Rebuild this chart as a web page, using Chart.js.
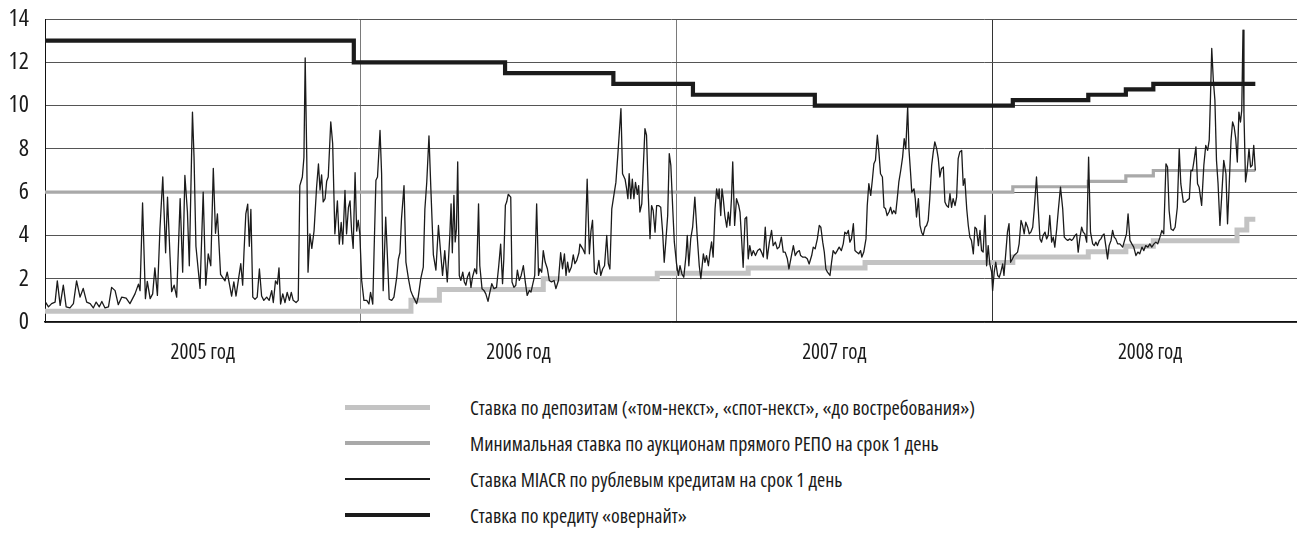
<!DOCTYPE html>
<html><head><meta charset="utf-8">
<script src="https://cdn.jsdelivr.net/npm/chart.js@4.4.1/dist/chart.umd.min.js"></script>
<style>
html,body{margin:0;padding:0;background:#fff;width:1297px;height:533px;overflow:hidden;}
#wrap{position:relative;width:1297px;height:533px;}
#c{position:absolute;left:0;top:0;}
.lg-line{position:absolute;left:345px;width:85px;}
.lg-text{position:absolute;left:470px;white-space:nowrap;color:#1a1a1a;transform-origin:0 50%;line-height:24px;}
</style></head><body>
<div id="wrap"><canvas id="c" width="1297" height="375"></canvas><div id="legend"></div></div>
<script>
// ---------- DATA ----------
const yearTicks = [2005, 2006, 2007, 2008];
const yearLabels = ['2005 год', '2006 год', '2007 год', '2008 год'];
const yTicks = [0, 2, 4, 6, 8, 10, 12, 14];
const seriesLabels = [
  'Ставка по депозитам («том-некст», «спот-некст», «до востребования»)',
  'Минимальная ставка по аукционам прямого РЕПО на срок 1 день',
  'Ставка MIACR по рублевым кредитам на срок 1 день',
  'Ставка по кредиту «овернайт»'
];
// dates in decimal years
const depositDates = [2005.000, 2006.159, 2006.249, 2006.578, 2006.939, 2007.227, 2007.597, 2008.065, 2008.304, 2008.423, 2008.510, 2008.775, 2008.806, 2008.833];
const depositRates = [0.5, 1.0, 1.5, 2.0, 2.25, 2.5, 2.75, 3.0, 3.25, 3.5, 3.75, 4.25, 4.75, 4.75];
const repoDates = [2005.000, 2008.065, 2008.304, 2008.423, 2008.510, 2008.833];
const repoRates = [6.0, 6.25, 6.5, 6.75, 7.0, 7.0];
const overnightDates = [2005.000, 2005.978, 2006.457, 2006.800, 2007.052, 2007.438, 2008.065, 2008.304, 2008.423, 2008.510, 2008.833];
const overnightRates = [13, 12, 11.5, 11, 10.5, 10, 10.25, 10.5, 10.75, 11, 11];
const miacrDates = [
2005.000,2005.011,2005.021,2005.032,2005.039,2005.048,2005.058,2005.067,2005.079,2005.090,
2005.100,2005.111,2005.121,2005.132,2005.143,2005.153,2005.162,2005.172,2005.180,2005.190,
2005.201,2005.211,2005.222,2005.232,2005.243,2005.257,2005.269,2005.285,2005.296,2005.301,
2005.309,2005.318,2005.324,2005.333,2005.341,2005.348,2005.356,2005.364,2005.373,2005.382,
2005.388,2005.396,2005.401,2005.409,2005.417,2005.428,2005.436,2005.443,2005.451,2005.457,
2005.467,2005.472,2005.478,2005.491,2005.501,2005.509,2005.517,2005.525,2005.533,2005.540,
2005.546,2005.556,
2005.570,2005.577,2005.586,2005.591,2005.598,2005.605,2005.612,2005.620,2005.626,2005.630,
2005.636,2005.642,2005.647,2005.652,2005.658,2005.665,2005.672,2005.679,2005.686,2005.693,
2005.702,2005.710,2005.718,2005.723,2005.730,2005.736,2005.741,2005.746,2005.753,2005.760,
2005.767,2005.774,2005.780,2005.786,2005.795,2005.802,2005.807,2005.815,2005.820,2005.824,
2005.829,2005.833,2005.839,2005.845,2005.852,2005.860,2005.866,2005.871,2005.876,2005.881,
2005.887,2005.892,2005.897,2005.905,2005.911,2005.918,2005.926,2005.932,2005.938,2005.943,
2005.950,2005.955,2005.961,2005.966,2005.971,2005.976,2005.982,2005.987,2005.992,2005.997,
2006.003,2006.010,2006.019,2006.026,2006.031,2006.038,2006.042,2006.048,2006.053,2006.061,
2006.066,2006.071,2006.079,2006.084,2006.090,2006.098,2006.105,2006.114,2006.119,
2006.124,2006.129,2006.137,2006.143,2006.151,2006.158,2006.164,2006.172,2006.177,2006.182,
2006.190,2006.198,2006.203,2006.209,2006.216,2006.222,2006.230,2006.238,2006.246,2006.253,
2006.259,2006.266,2006.274,2006.282,2006.286,2006.290,2006.295,2006.299,2006.303,2006.307,
2006.312,2006.317,2006.323,2006.328,2006.333,2006.338,2006.344,2006.349,2006.354,2006.361,
2006.367,2006.373,2006.377,2006.384,2006.390,2006.396,2006.403,2006.409,2006.415,2006.422,
2006.430,2006.437,2006.443,2006.449,2006.453,2006.458,2006.462,2006.467,2006.475,2006.479,
2006.485,2006.491,2006.496,2006.502,2006.508,2006.515,2006.521,2006.527,2006.534,2006.539,
2006.544,2006.551,2006.557,2006.563,2006.567,2006.573,2006.578,2006.584,2006.591,2006.597,
2006.604,2006.612,2006.618,2006.626,2006.633,2006.639,2006.645,2006.650,2006.655,2006.660,
2006.667,2006.673,2006.678,2006.684,2006.691,
2006.694,2006.703,2006.710,2006.717,2006.724,2006.729,2006.734,2006.740,2006.747,2006.754,
2006.760,2006.766,2006.772,2006.779,2006.784,2006.789,2006.795,2006.802,2006.808,2006.814,
2006.819,2006.824,2006.829,2006.837,2006.842,2006.846,2006.850,2006.855,2006.860,2006.865,
2006.870,2006.876,2006.880,2006.884,2006.890,2006.895,2006.900,2006.905,2006.911,2006.916,
2006.921,2006.926,2006.932,2006.937,2006.943,2006.950,2006.956,2006.961,2006.966,2006.972,
2006.977,2006.982,2006.988,2006.993,2007.000,2007.006,2007.011,2007.017,2007.023,2007.030,
2007.034,2007.039,2007.045,2007.051,2007.058,2007.066,2007.072,2007.077,2007.085,2007.090,
2007.095,2007.101,2007.106,2007.111,2007.116,2007.122,2007.127,2007.132,2007.135,2007.140,
2007.144,2007.148,2007.153,2007.159,2007.164,2007.169,2007.174,2007.178,2007.184,2007.190,
2007.197,2007.201,2007.206,2007.211,2007.217,2007.222,2007.227,2007.232,2007.238,2007.243,
2007.250,2007.257,
2007.264,2007.269,2007.275,2007.281,2007.287,2007.294,2007.301,2007.306,2007.313,2007.319,
2007.325,2007.332,2007.338,2007.344,2007.351,2007.356,2007.362,2007.370,2007.376,2007.382,
2007.389,2007.393,2007.399,2007.407,2007.414,2007.420,2007.428,2007.433,2007.439,2007.446,
2007.452,2007.457,2007.463,2007.468,2007.473,2007.478,2007.486,2007.491,2007.496,2007.503,
2007.509,2007.515,2007.522,2007.528,2007.533,2007.539,2007.544,2007.549,2007.554,2007.560,
2007.565,2007.570,2007.577,2007.583,2007.587,2007.593,2007.600,2007.604,2007.609,2007.615,
2007.620,2007.625,2007.630,2007.636,2007.641,2007.646,2007.652,2007.657,2007.662,2007.667,
2007.673,2007.678,2007.683,2007.688,2007.694,2007.699,2007.704,2007.710,2007.716,2007.721,
2007.726,2007.732,2007.736,2007.741,2007.745,2007.752,2007.756,2007.760,2007.766,2007.771,
2007.776,2007.781,2007.787,2007.792,2007.797,2007.802,2007.808,2007.813,2007.818,2007.824,
2007.829,
2007.834,2007.839,2007.845,2007.850,2007.855,2007.861,2007.866,2007.871,2007.876,2007.882,
2007.887,2007.892,2007.897,2007.903,2007.908,2007.913,2007.919,2007.924,2007.929,2007.934,
2007.940,2007.945,2007.950,2007.956,2007.961,2007.966,2007.971,2007.977,2007.982,2007.987,
2007.992,2007.998,2008.001,2008.006,2008.011,2008.017,2008.022,2008.027,2008.033,2008.037,
2008.043,2008.048,2008.053,2008.058,2008.064,2008.069,2008.075,2008.080,2008.085,2008.091,
2008.096,2008.101,2008.106,2008.112,2008.117,2008.122,2008.128,2008.133,2008.140,2008.145,
2008.151,2008.156,2008.161,2008.167,2008.172,2008.177,2008.182,2008.188,2008.193,2008.198,
2008.204,2008.209,2008.216,2008.223,2008.228,2008.233,2008.239,2008.246,2008.251,2008.256,
2008.262,2008.267,2008.272,2008.277,2008.283,2008.288,2008.293,2008.299,2008.305,2008.311,
2008.318,2008.323,2008.328,2008.333,2008.339,2008.344,2008.349,2008.354,2008.360,2008.365,
2008.370,2008.376,2008.381,2008.386,2008.391,2008.397,
2008.404,2008.413,2008.419,2008.425,2008.430,2008.436,2008.442,2008.448,2008.455,2008.461,
2008.467,2008.474,2008.480,2008.486,2008.493,2008.499,2008.505,2008.512,2008.518,2008.524,
2008.531,2008.537,2008.543,2008.550,2008.555,2008.560,2008.566,2008.573,2008.579,2008.586,
2008.592,2008.597,2008.605,2008.611,2008.617,2008.624,2008.629,2008.634,2008.639,2008.645,
2008.650,2008.655,2008.663,2008.670,2008.676,2008.682,2008.687,2008.691,2008.695,2008.700,
2008.705,2008.710,2008.715,2008.721,2008.727,2008.733,2008.740,2008.745,2008.750,2008.756,
2008.761,2008.766,2008.771,2008.776,2008.781,2008.786,2008.790,2008.794,2008.797,2008.802,
2008.807,2008.813,2008.818,2008.823,2008.828,2008.833
];
const miacrRates = [
0.95,0.7,0.85,0.92,1.9,0.77,1.7,0.7,0.65,0.85,
1.9,1.15,1.55,0.92,0.85,0.65,0.92,0.7,0.95,0.65,
0.7,1.6,1.45,0.8,1.15,1.1,0.85,1.3,1.75,1.45,
5.5,1.08,1.88,1.08,1.3,2.5,1.23,4.3,6.7,3.2,
5.77,3.0,1.4,1.7,1.15,5.7,2.3,6.77,5.1,2.6,
9.7,7.6,3.5,1.55,6.0,1.7,3.15,2.6,7.1,4.1,
5.0,2.2,
1.9,2.3,1.6,1.2,1.85,1.2,1.9,2.7,1.7,3.15,
5.0,5.45,3.5,5.2,1.15,1.05,1.15,2.45,1.2,1.0,
1.15,1.0,1.45,0.9,1.9,1.75,2.5,0.83,1.3,0.9,
1.37,1.0,1.37,1.0,0.9,1.0,6.3,6.7,7.6,12.2,
7.6,2.3,4.07,3.4,4.2,6.2,7.3,6.1,6.8,5.55,
5.7,6.5,6.7,9.25,8.25,4.07,5.6,3.6,4.6,3.6,
6.08,4.07,5.3,5.6,4.2,3.4,6.9,4.2,4.7,4.07,
1.9,1.0,1.0,0.83,1.37,0.83,3.15,6.55,6.7,8.85,
6.85,1.45,4.85,3.15,1.05,1.0,1.15,2.07,2.9,
3.2,4.77,6.3,2.77,2.0,1.46,1.23,1.0,0.85,1.15,
2.0,2.54,5.2,6.46,8.6,6.15,3.1,2.4,4.46,3.2,
2.15,3.3,1.85,4.0,5.46,3.2,5.85,3.7,4.3,7.4,
2.15,1.92,2.3,1.85,1.7,2.08,2.3,1.6,2.08,2.46,
2.23,5.46,2.6,1.54,1.46,1.3,0.95,1.38,1.77,1.54,
1.6,2.6,3.6,1.77,2.9,5.4,5.54,5.9,5.77,1.85,
1.6,1.7,2.4,1.92,2.15,2.6,1.85,1.23,1.46,1.38,
1.7,2.15,5.46,2.15,2.46,2.3,3.3,2.77,2.46,1.92,
1.85,1.92,1.54,1.92,3.2,2.46,3.15,2.15,2.77,2.3,
2.54,3.1,2.7,2.85,3.2,
3.6,3.38,3.15,6.6,3.15,4.2,4.7,2.3,2.2,2.85,
2.15,2.45,2.6,4.0,2.7,2.45,5.23,5.9,6.45,7.7,
8.78,9.86,6.85,6.6,6.15,5.7,6.85,5.7,6.6,5.7,
6.45,5.9,6.3,5.08,5.46,7.24,8.93,8.63,5.7,3.85,
5.38,5.15,4.15,5.38,5.38,5.3,4.15,2.76,3.7,4.92,
7.78,7.24,5.23,3.7,2.7,2.15,2.6,2.22,2.07,3.07,
4.0,2.6,3.85,4.38,5.77,3.85,2.6,2.0,3.15,2.76,
3.07,2.6,3.23,3.7,3.0,5.23,6.15,5.7,6.15,4.92,
6.15,5.7,4.92,4.38,5.08,4.46,5.7,7.4,4.46,5.7,
5.38,5.08,3.85,2.53,4.77,4.85,2.92,3.53,3.07,3.3,
3.07,3.3,
3.38,3.23,3.0,4.38,2.92,3.69,4.23,3.53,3.69,3.38,
3.46,3.92,3.23,3.23,2.92,2.45,2.92,3.53,3.07,3.23,
3.3,3.07,3.0,3.0,2.92,2.68,3.07,3.46,3.38,3.84,
4.46,4.38,3.69,3.23,2.45,2.3,2.15,2.76,3.3,3.15,
3.3,3.46,3.3,3.61,4.15,4.07,4.23,3.69,3.84,4.54,
3.3,3.23,3.15,3.3,3.0,3.23,3.84,5.38,6.39,5.85,
6.54,7.31,7.47,8.63,7.85,6.85,6.7,5.3,5.23,4.92,
5.08,5.3,5.0,5.15,5.0,5.7,6.46,7.0,7.62,8.47,
8.0,9.94,8.0,6.93,6.0,6.15,5.7,4.85,5.7,4.46,
4.15,4.0,4.38,4.46,4.69,5.7,7.24,7.85,8.32,8.0,
7.55,
6.7,7.08,7.16,5.54,5.38,5.3,5.93,5.3,5.7,5.38,
5.77,7.55,7.85,7.93,6.31,6.62,5.23,4.46,3.92,3.77,
3.15,4.38,4.3,3.53,4.23,3.3,3.23,4.92,2.6,3.53,
2.68,2.3,1.45,2.3,2.76,2.15,2.07,2.3,2.68,2.15,
3.23,4.15,4.54,2.76,2.92,3.07,3.15,3.23,3.61,4.69,
4.46,4.07,4.61,4.38,4.07,4.15,4.38,5.23,6.7,5.38,
3.84,3.69,4.0,4.15,3.84,4.0,4.92,3.69,3.92,3.46,
4.3,5.15,6.23,5.23,3.92,3.84,3.77,3.84,3.77,3.84,
4.0,4.07,3.23,3.84,4.38,4.15,4.07,3.69,7.62,4.15,
3.61,3.53,3.69,3.53,3.77,3.84,4.0,4.07,3.46,2.92,
3.53,3.77,4.23,3.92,3.84,3.61,
3.61,3.46,3.77,4.07,5.0,3.77,3.61,3.46,3.07,3.23,
3.15,3.46,3.3,3.53,3.46,3.61,3.46,3.61,3.69,3.61,
3.92,4.23,4.07,7.31,7.16,5.15,4.3,4.23,4.38,5.3,
8.0,6.39,5.54,5.54,5.62,5.7,7.0,7.0,7.47,8.09,
6.39,6.23,5.39,7.24,8.16,7.93,8.4,10.4,12.64,11.17,
10.25,7.47,6.39,4.46,5.93,7.47,6.85,4.54,6.23,8.4,
9.24,9.01,8.47,7.39,9.7,9.24,9.78,13.49,9.63,6.47,
7.0,8.0,7.16,7.24,8.16,7.0
];

// ---------- FONT PICK (narrowest installed sans) ----------
const mctx = document.createElement('canvas').getContext('2d');
const sampleText = 'Ставка по депозитам 2005 год 0123456789';
const fontCands = [
  {fam: '"Liberation Sans Narrow"', st: 'normal'},
  {fam: '"Roboto Condensed"', st: 'normal'},
  {fam: '"Open Sans"', st: 'condensed'},
  {fam: '"Noto Sans"', st: 'condensed'},
  {fam: 'Roboto', st: 'condensed'},
  {fam: '"DejaVu Sans"', st: 'condensed'},
  {fam: '"DejaVu Sans Condensed"', st: 'normal'},
  {fam: '"Liberation Sans"', st: 'normal'}
];
mctx.font = '40px monospace';
const monoW = mctx.measureText(sampleText).width;
let best = {fam: '"Liberation Sans"', st: 'normal', w: 1e9};
fontCands.forEach(c => {
  mctx.font = '10px serif';
  const spec = (c.st === 'normal' ? '' : c.st + ' ') + '40px ' + c.fam + ', monospace';
  mctx.font = spec;
  if (mctx.font.indexOf('10px') !== -1) return; // not parsed
  const w = mctx.measureText(sampleText).width;
  if (w < monoW * 0.97 && w < best.w - 0.5) best = {fam: c.fam, st: c.st, w: w};
});
const FONT_FAMILY = best.fam + ', "Liberation Sans", sans-serif';
const FONT_STRETCH = best.st;
const fontOpt = size => (FONT_STRETCH === 'normal' ? {family: FONT_FAMILY, size: size} : {family: FONT_FAMILY, size: size, weight: FONT_STRETCH});

const pts = (xs, ys) => xs.map((x, i) => ({x: x, y: ys[i]}));

const datasets = [
  {label: seriesLabels[3], data: pts(overnightDates, overnightRates), borderColor: '#1b1b1b', borderWidth: 4.2, stepped: 'before', order: 0, borderJoinStyle: 'miter', borderCapStyle: 'butt'},
  {label: seriesLabels[2], data: pts(miacrDates, miacrRates), borderColor: '#1b1b1b', borderWidth: 1.3, order: 1, borderJoinStyle: 'round', tension: 0},
  {label: seriesLabels[1], data: pts(repoDates, repoRates), borderColor: '#a9a9a9', borderWidth: 3.2, stepped: 'before', order: 2, borderJoinStyle: 'miter', borderCapStyle: 'butt'},
  {label: seriesLabels[0], data: pts(depositDates, depositRates), borderColor: '#c3c3c3', borderWidth: 5, stepped: 'before', order: 3, borderJoinStyle: 'miter', borderCapStyle: 'butt'}
];
datasets.forEach(d => { d.pointRadius = 0; d.fill = false; });

const xTickVals = [];
yearTicks.forEach(y => { xTickVals.push(y); xTickVals.push(y + 0.5); });
const zeroPad = s => { s.paddingLeft = 0; s.paddingRight = 0; s.paddingTop = 0; s.paddingBottom = 0; };

const chart = new Chart(document.getElementById('c'), {
  type: 'line',
  data: {datasets: datasets},
  options: {
    responsive: false, animation: false, events: [],
    layout: {padding: {top: 19, right: 0, left: 0, bottom: 0}},
    plugins: {legend: {display: false}, tooltip: {enabled: false}},
    scales: {
      x: {
        type: 'linear', min: 2005, max: 2008.965,
        afterBuildTicks: s => { s.ticks = xTickVals.map(v => ({value: v})); },
        afterFit: s => { s.height = 53; zeroPad(s); },
        ticks: {
          autoSkip: false, maxRotation: 0, minRotation: 0, padding: 18, color: '#1a1a1a',
          font: fontOpt(21),
          callback: (v, i) => (i % 2 === 1 ? yearLabels[(i - 1) / 2] : '')
        },
        grid: {
          drawTicks: false, lineWidth: 1,
          color: c => (c.index % 2 === 1 || c.index === 0) ? 'rgba(0,0,0,0)' : (c.tick && c.tick.value === 2008 ? '#333333' : '#7a7a7a')
        },
        border: {display: true, color: '#111', width: 1.5}
      },
      y: {
        min: 0, max: 14,
        afterBuildTicks: s => { s.ticks = yTicks.map(v => ({value: v})); },
        afterFit: s => { s.width = 45; zeroPad(s); },
        ticks: {padding: 16, color: '#1a1a1a', font: fontOpt(24)},
        grid: {drawTicks: false, color: '#555', lineWidth: 1},
        border: {display: true, color: '#111', width: 1}
      }
    }
  }
});

// ---------- HTML LEGEND ----------
const legendOrder = [3, 2, 1, 0]; // deposit, repo, miacr, overnight
const legendRowY = [408, 444, 480, 516];
const lg = document.getElementById('legend');
const texts = [];
legendOrder.forEach((di, r) => {
  const ds = datasets[di];
  const line = document.createElement('div');
  line.className = 'lg-line';
  const h = ds.borderWidth;
  line.style.top = (legendRowY[r] - 1 - h / 2) + 'px';
  line.style.height = h + 'px';
  line.style.background = ds.borderColor;
  lg.appendChild(line);
  const t = document.createElement('div');
  t.className = 'lg-text';
  t.textContent = ds.label;
  t.style.fontFamily = FONT_FAMILY;
  t.style.fontStretch = FONT_STRETCH;
  t.style.fontSize = '20px';
  t.style.top = (legendRowY[r] - 12) + 'px';
  lg.appendChild(t);
  texts.push(t);
});
const w0 = texts[0].getBoundingClientRect().width;
const k = 505 / w0;
texts.forEach(t => { t.style.transform = 'scaleX(' + k.toFixed(4) + ')'; });
</script>
</body></html>
